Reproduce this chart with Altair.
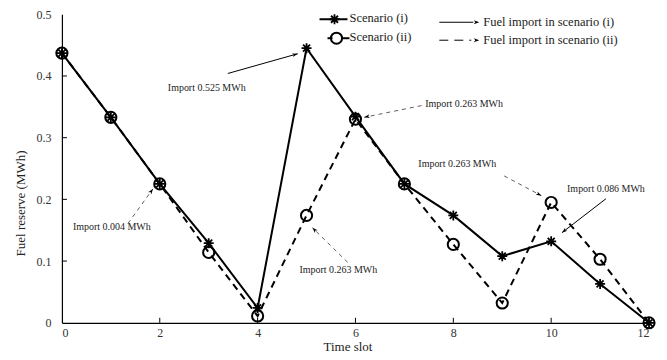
import math
import altair as alt
import pandas as pd

# ---------------- data ----------------
time_slots = list(range(13))
scenario_i = [0.437, 0.333, 0.225, 0.129, 0.024, 0.445, 0.334, 0.225, 0.174, 0.108, 0.132, 0.063, 0.0]
scenario_ii = [0.437, 0.333, 0.225, 0.114, 0.011, 0.174, 0.330, 0.225, 0.127, 0.032, 0.195, 0.103, 0.0]

x_ticks = [0, 2, 4, 6, 8, 10, 12]
y_ticks = [0, 0.1, 0.2, 0.3, 0.4, 0.5]

ann_text = ["Import 0.525 MWh", "Import 0.263 MWh", "Import 0.263 MWh",
            "Import 0.086 MWh", "Import 0.004 MWh", "Import 0.263 MWh"]
ann_tx = [2.96, 8.22, 8.08, 11.12, 1.02, 5.65]
ann_ty = [0.381, 0.354, 0.257, 0.217, 0.156, 0.085]
arr_x0 = [3.39, 7.35, 9.04, 11.12, 1.35, 5.84]
arr_y0 = [0.404, 0.352, 0.238, 0.201, 0.161, 0.098]
arr_x1 = [4.82, 6.18, 9.80, 10.22, 1.86, 5.12]
arr_y1 = [0.436, 0.333, 0.206, 0.146, 0.217, 0.154]
arr_kind = ["solid", "dashed", "dashed", "solid", "dashed", "dashed"]

W, H = 588, 309
XMAX, YMAX = 12, 0.5
FONT = "Liberation Serif"

STAR = "M-1,0L1,0M0,-1L0,1M-0.7,-0.7L0.7,0.7M-0.7,0.7L0.7,-0.7"
HEAD = "M0,0L-0.7,2L0,1.45L0.7,2Z"

df_i = pd.DataFrame({"t": time_slots, "v": scenario_i})
df_ii = pd.DataFrame({"t": time_slots, "v": scenario_ii})

px_x = W / XMAX
px_y = H / YMAX
angles = [(math.degrees(math.atan2((x1 - x0) * px_x, (y1 - y0) * px_y)) + 360) % 360
          for x0, y0, x1, y1 in zip(arr_x0, arr_y0, arr_x1, arr_y1)]
df_arr = pd.DataFrame({"x0": arr_x0, "y0": arr_y0, "x1": arr_x1, "y1": arr_y1,
                       "kind": arr_kind, "ang": angles})
df_txt = pd.DataFrame({"x": ann_tx, "y": ann_ty, "label": ann_text})

xs = alt.Scale(domain=[0, XMAX], nice=False)
ys = alt.Scale(domain=[0, YMAX], nice=False)

base_x = alt.X("t:Q", scale=xs,
               axis=alt.Axis(values=x_ticks, title="Time slot", format="d",
                             titleX=286, titleFontSize=13))
base_y = alt.Y("v:Q", scale=ys,
               axis=alt.Axis(values=y_ticks, title="Fuel reserve (MWh)", titleY=189,
                             titleFontSize=13,
                             labelExpr="datum.value == 0 ? '0' : format(datum.value, '.1f')"))

line_i = alt.Chart(df_i).mark_line(color="black", strokeWidth=2).encode(x=base_x, y=base_y)
line_ii = alt.Chart(df_ii).mark_line(color="black", strokeWidth=2, strokeDash=[7, 5]).encode(x=base_x, y=base_y)
pts_i = alt.Chart(df_i).mark_point(shape=STAR, size=100, filled=False, color="black",
                                   strokeWidth=1.8, opacity=1).encode(x=base_x, y=base_y)
pts_ii = alt.Chart(df_ii).mark_point(shape="circle", size=125, filled=False, color="black",
                                     strokeWidth=2, opacity=1).encode(x=base_x, y=base_y)

# inward ticks
ytick_df = pd.DataFrame({"v": y_ticks[1:-1]})
xtick_df = pd.DataFrame({"t": x_ticks[1:]})
yticks = alt.Chart(ytick_df).mark_rule(color="black", strokeWidth=1).encode(
    y=alt.Y("v:Q", scale=ys), x=alt.value(0), x2=alt.value(5))
xticks = alt.Chart(xtick_df).mark_rule(color="black", strokeWidth=1).encode(
    x=alt.X("t:Q", scale=xs), y=alt.value(H), y2=alt.value(H - 5))

# annotation arrows
arr_solid = alt.Chart(df_arr[df_arr.kind == "solid"]).mark_rule(color="black", strokeWidth=1).encode(
    x=alt.X("x0:Q", scale=xs), y=alt.Y("y0:Q", scale=ys), x2="x1:Q", y2="y1:Q")
arr_dash = alt.Chart(df_arr[df_arr.kind == "dashed"]).mark_rule(color="#333", strokeWidth=0.8,
                                                                 strokeDash=[4, 4]).encode(
    x=alt.X("x0:Q", scale=xs), y=alt.Y("y0:Q", scale=ys), x2="x1:Q", y2="y1:Q")
heads = alt.Chart(df_arr).mark_point(shape=HEAD, size=30, filled=True, color="black", opacity=1).encode(
    x=alt.X("x1:Q", scale=xs), y=alt.Y("y1:Q", scale=ys), angle=alt.Angle("ang:Q", scale=None))
texts = alt.Chart(df_txt).mark_text(font=FONT, fontSize=10, color="#222").encode(
    x=alt.X("x:Q", scale=xs), y=alt.Y("y:Q", scale=ys), text="label:N")

# legend (manual)
one = pd.DataFrame({"a": [0]})
def lrule(x1, x2, y, dash=None, sw=2):
    kw = dict(color="black", strokeWidth=sw)
    if dash:
        kw["strokeDash"] = dash
    return alt.Chart(one).mark_rule(**kw).encode(x=alt.value(x1), x2=alt.value(x2), y=alt.value(y))
def ltext(x, y, s):
    return alt.Chart(one).mark_text(text=s, font=FONT, fontSize=12.5, align="left",
                                    baseline="middle", color="#222").encode(x=alt.value(x), y=alt.value(y))
def lpoint(x, y, shape, size, filled=False, angle=0, sw=2):
    return alt.Chart(one).mark_point(shape=shape, size=size, filled=filled, color="black",
                                     strokeWidth=sw, opacity=1, angle=angle).encode(
        x=alt.value(x), y=alt.value(y))

legend = [
    lrule(258, 286, 5),
    lpoint(273, 5, STAR, 100, sw=1.8),
    ltext(288, 4, "Scenario (i)"),
    lrule(266, 271, 24),
    lrule(280, 288, 24),
    lpoint(275, 24, "circle", 125),
    ltext(288, 23, "Scenario (ii)"),
    lrule(378, 412, 8, sw=1.2),
    lpoint(418, 8, HEAD, 30, filled=True, angle=90),
    ltext(422, 8, "Fuel import in scenario (i)"),
    lrule(378, 410, 26, dash=[9, 6], sw=1),
    lpoint(418, 26, HEAD, 30, filled=True, angle=90),
    ltext(422, 26, "Fuel import in scenario (ii)"),
]

chart = alt.layer(line_i, line_ii, pts_i, pts_ii, yticks, xticks,
                  arr_solid, arr_dash, heads, texts, *legend).properties(
    width=W, height=H,
    autosize=alt.AutoSizeParams(type="none"),
    padding={"left": 54, "top": 6, "right": 10, "bottom": 30},
).configure_view(stroke=None).configure_axis(
    grid=False, domainColor="black", domainWidth=1.2, ticks=False,
    labelFont=FONT, labelFontSize=12, labelColor="#333",
    titleFont=FONT, titleColor="#222", titleFontWeight="normal",
).configure_axisX(labelPadding=5, titlePadding=2).configure_axisY(labelPadding=11, titlePadding=8)

chart.save("out.html", embed_options={"renderer": "svg", "actions": False})
